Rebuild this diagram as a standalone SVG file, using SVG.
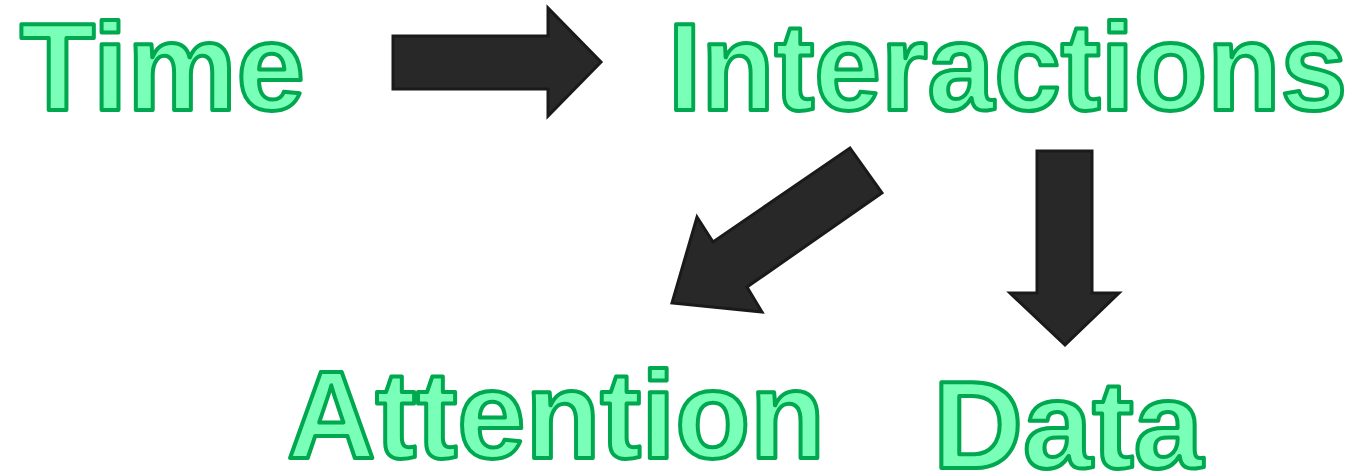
<svg xmlns="http://www.w3.org/2000/svg" width="1361" height="475" viewBox="0 0 1361 475">
<style>
.lbl{font-family:"Liberation Sans",Arial,sans-serif;font-weight:bold;font-size:124px;fill:#7affb8;stroke:#00a84f;stroke-width:4;stroke-linejoin:round}
.arr{fill:#282828;stroke:#1a1a1a;stroke-width:3;stroke-linejoin:miter}
</style>
<rect width="1361" height="475" fill="#ffffff"/>
<g id="time"><text class="lbl" x="20" y="110" textLength="285" lengthAdjust="spacingAndGlyphs">Time</text></g>
<g id="interactions"><text class="lbl" x="668" y="110" textLength="679" lengthAdjust="spacingAndGlyphs">Interactions</text></g>
<g id="attention"><text class="lbl" x="287" y="458" textLength="538" lengthAdjust="spacingAndGlyphs">Attention</text></g>
<g id="data"><text class="lbl" x="933" y="468" textLength="270" lengthAdjust="spacingAndGlyphs">Data</text></g>
<g id="connectors">
<polygon class="arr" points="393,36 548,36 548,8 601,62 548,116 548,89 393,89"/>
<polygon class="arr" points="850,148 882,193 747,287 762,312 672,303 697,217 713,242"/>
<polygon class="arr" points="1037,151 1092,151 1092,293 1119,293 1065,345 1010,293 1037,293"/>
</g>
</svg>
